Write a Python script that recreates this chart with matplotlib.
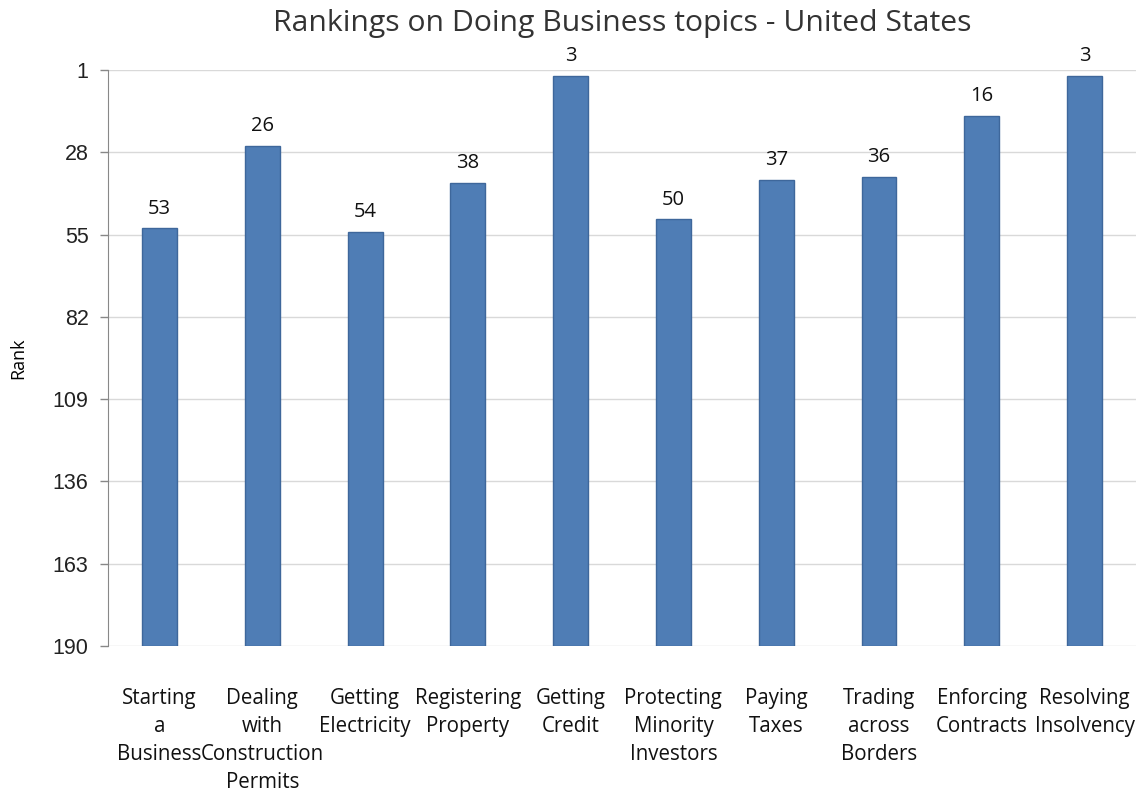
import matplotlib
matplotlib.use("Agg")
import matplotlib.pyplot as plt
import numpy as np

# Doing Business rankings, United States
topics = ["Starting\na\nBusiness", "Dealing\nwith\nConstruction\nPermits",
          "Getting\nElectricity", "Registering\nProperty", "Getting\nCredit",
          "Protecting\nMinority\nInvestors", "Paying\nTaxes",
          "Trading\nacross\nBorders", "Enforcing\nContracts",
          "Resolving\nInsolvency"]
ranks = [53, 26, 54, 38, 3, 50, 37, 36, 16, 3]
yticks = [1, 28, 55, 82, 109, 136, 163, 190]

plt.rcParams['font.family'] = ['Open Sans', 'DejaVu Sans']

fig = plt.figure(figsize=(11.41, 7.92), dpi=100)
ax = fig.add_axes([0.0947, 0.1843, 0.9009, 0.7273])

x = np.arange(len(topics))
base = 190
ax.bar(x, [r - base for r in ranks], bottom=base, width=0.34,
       color='#4F7DB5', edgecolor='#3E679B', linewidth=1, zorder=3)

for xi, r in zip(x, ranks):
    ax.annotate(str(r), (xi, r), xytext=(0, 7), textcoords='offset points',
                ha='center', va='bottom', fontsize=14.5, color='#111111')

ax.set_xlim(-0.5, len(topics) - 0.5)
ax.set_ylim(190, 1)
ax.set_yticks(yticks)
ax.set_yticklabels([str(t) for t in yticks], fontfamily='Liberation Sans',
                   fontsize=15.5, color='#222222')
ax.set_xticks(x)
ax.set_xticklabels(topics, fontsize=14.8, linespacing=1.45, color='#111111')
ax.tick_params(axis='x', length=0, pad=30)
ax.tick_params(axis='y', length=6, color='#888888', width=1, pad=8)

ax.grid(axis='y', color='#D9D9D9', linewidth=1, zorder=0)
for s in ['top', 'right', 'bottom']:
    ax.spines[s].set_visible(False)
ax.spines['left'].set_color('#888888')

ax.set_ylabel('Rank', fontsize=13, labelpad=18)
ax.set_title('Rankings on Doing Business topics - United States',
             fontsize=21.7, color='#333333', pad=28)

fig.savefig('out.png', dpi=100)
